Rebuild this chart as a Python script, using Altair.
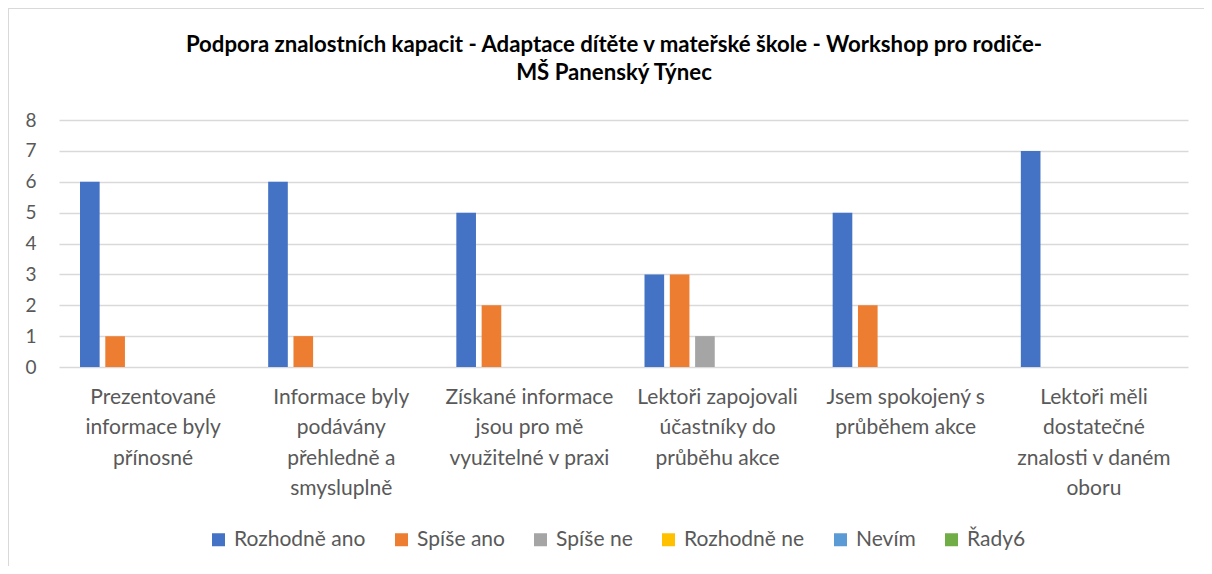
import altair as alt
import pandas as pd

categories = [
    "Prezentované|informace byly|přínosné",
    "Informace byly|podávány|přehledně a|smysluplně",
    "Získané informace|jsou pro mě|využitelné v praxi",
    "Lektoři zapojovali|účastníky do|průběhu akce",
    "Jsem spokojený s|průběhem akce",
    "Lektoři měli|dostatečné|znalosti v daném|oboru",
]
series = ["Rozhodně ano", "Spíše ano", "Spíše ne", "Rozhodně ne", "Nevím", "Řady6"]
colors = ["#4472C4", "#ED7D31", "#A5A5A5", "#FFC000", "#5B9BD5", "#70AD47"]
rozhodne_ano = [6, 6, 5, 3, 5, 7]
spise_ano = [1, 1, 2, 3, 2, 0]
spise_ne = [0, 0, 0, 1, 0, 0]
rozhodne_ne = [0, 0, 0, 0, 0, 0]
nevim = [0, 0, 0, 0, 0, 0]
rady6 = [0, 0, 0, 0, 0, 0]
y_ticks = [0, 1, 2, 3, 4, 5, 6, 7, 8]

title_text = (
    "Podpora znalostních kapacit - Adaptace dítěte v mateřské škole - Workshop pro rodiče-\n"
    "MŠ Panenský Týnec"
)

vals = [rozhodne_ano, spise_ano, spise_ne, rozhodne_ne, nevim, rady6]
rows = []
for s, v in zip(series, vals):
    for c, x in zip(categories, v):
        rows.append({"category": c, "series": s, "value": x})
df = pd.DataFrame(rows)

W, H = 1129, 247
PL, PT = 51, 112
PR = 1196 - PL - W
PB = 558 - PT - H

FONT = "Lato"
GRAY = "#595959"

bars = alt.Chart(df).mark_bar().encode(
    x=alt.X(
        "category:N",
        sort=categories,
        scale=alt.Scale(paddingInner=0, paddingOuter=0),
        axis=alt.Axis(
            title=None,
            labelAngle=0,
            labelExpr="split(datum.label, '|')",
            labelFontSize=21,
            labelLineHeight=30.5,
            labelColor=GRAY,
            labelFont=FONT,
            labelPadding=19,
            labelBaseline="top",
            ticks=False,
            domain=False,
            labelLimit=300,
        ),
    ),
    xOffset=alt.XOffset(
        "series:N",
        sort=series,
        scale=alt.Scale(paddingInner=0.224, paddingOuter=0.83),
    ),
    y=alt.Y(
        "value:Q",
        scale=alt.Scale(domain=[0, 8], nice=False),
        axis=alt.Axis(
            title=None,
            values=y_ticks,
            labelFontSize=19,
            labelColor=GRAY,
            labelFont=FONT,
            labelPadding=23,
            ticks=False,
            domain=False,
            grid=True,
            gridColor="#D9D9D9",
            gridWidth=1.3,
        ),
    ),
    color=alt.Color(
        "series:N",
        sort=series,
        scale=alt.Scale(domain=series, range=colors),
        legend=alt.Legend(
            title=None,
            orient="none",
            direction="horizontal",
            legendX=149,
            legendY=409,
            symbolType="square",
            symbolSize=169,
            symbolStrokeWidth=0,
            labelFontSize=21,
            labelFont=FONT,
            labelColor=GRAY,
            columnPadding=25,
            labelOffset=5,
        ),
    ),
)

border = alt.Chart(alt.Data(values=[{}])).mark_rect(
    fill=None, stroke="#D9D9D9", strokeWidth=2
).encode(
    x=alt.value(-PL),
    y=alt.value(-PT),
    x2=alt.value(W + PR + 10),
    y2=alt.value(H + PB + 10),
)

title = alt.Chart(alt.Data(values=[{"t": title_text}])).mark_text(
    font=FONT,
    fontSize=22.2,
    fontWeight="bold",
    color="#000000",
    lineBreak="\n",
    lineHeight=28,
    align="center",
    baseline="alphabetic",
).encode(
    text="t:N",
    x=alt.value(555),
    y=alt.value(-68),
)

chart = alt.layer(border, bars, title).properties(
    width=W,
    height=H,
    padding={"left": PL, "top": PT, "right": PR, "bottom": PB},
    autosize=alt.AutoSizeParams(type="none"),
).configure_view(stroke=None)

chart.save("out.html", embed_options={"renderer": "svg", "actions": False})
